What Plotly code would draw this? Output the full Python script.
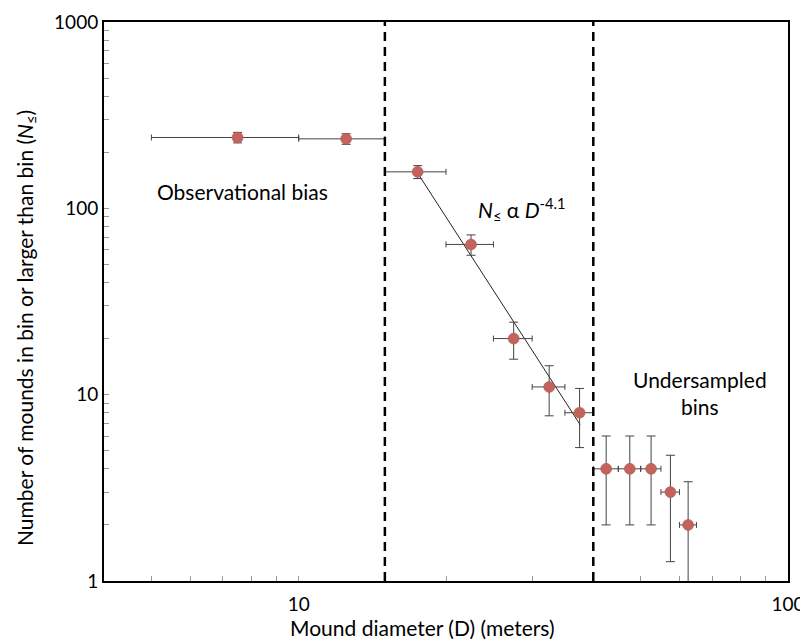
import plotly.graph_objects as go

# Data
diam = [7.5, 12.5, 17.5, 22.5, 27.5, 32.5, 37.5, 42.5, 47.5, 52.5, 57.5, 62.5]
counts = [240, 236, 157, 64, 20, 11, 8, 4, 4, 4, 3, 2]
count_err = [15.5, 15.4, 12.5, 8.0, 4.5, 3.3, 2.8, 2.0, 2.0, 2.0, 1.73, 1.41]
diam_err = [2.5] * 12

fit_x = [17.6, 37.6]
fit_y = [151, 6.9]

boundaries = [15, 40]

x_ticks = [10, 100]
x_minor = [5, 6, 7, 8, 9, 20, 30, 40, 50, 60, 70, 80, 90]
y_ticks = [1, 10, 100, 1000]
y_minor = [2, 3, 4, 5, 6, 7, 8, 9, 20, 30, 40, 50, 60, 70, 80, 90,
           200, 300, 400, 500, 600, 700, 800, 900]

FONT = "Lato"
TXT = 21

fig = go.Figure()

fig.add_trace(go.Scatter(
    x=fit_x, y=fit_y, mode="lines",
    line=dict(color="#222222", width=1), showlegend=False, hoverinfo="skip"))

fig.add_trace(go.Scatter(
    x=diam, y=counts, mode="markers",
    marker=dict(color="#C4625C", size=11, line=dict(color="#A9514C", width=0.5)),
    error_x=dict(type="data", array=diam_err, color="#444444", thickness=1, width=3),
    error_y=dict(type="data", array=count_err, color="#444444", thickness=1, width=4.5),
    showlegend=False))

for b in boundaries:
    fig.add_shape(type="line", xref="x", yref="paper", x0=b, x1=b, y0=0, y1=1,
                  line=dict(color="black", width=2.5, dash="9px,6px"))


def note(x, y, text, angle=0):
    fig.add_annotation(x=x, y=y, xref="paper", yref="paper", text=text,
                       showarrow=False, xanchor="center", yanchor="middle",
                       textangle=angle,
                       font=dict(family=FONT, size=TXT, color="black"))


note(0.203, 0.696, "Observational bias")
note(0.61, 0.664, "<i>N</i><sub>≤</sub> α <i>D</i><sup>-4.1</sup>")
note(0.871, 0.336, "Undersampled<br>bins")

# axis titles
note(0.4656, -0.0823, "Mound diameter (D) (meters)")
note(-0.114, 0.4526, "Number of mounds in bin or larger than bin (<i>N</i><sub>≤</sub>)", angle=-90)

fig.update_xaxes(
    type="log", range=[0.60206, 2.0], automargin=False,
    tickvals=x_ticks, ticktext=["10", "100"], ticklabelstandoff=5,
    ticks="inside", ticklen=5, tickcolor="#999999", tickwidth=1,
    minor=dict(tickvals=x_minor, ticks="inside", ticklen=5, tickcolor="#999999", tickwidth=1),
    showline=True, linecolor="black", linewidth=2, mirror=True,
    showgrid=False, zeroline=False,
    tickfont=dict(family=FONT, size=19, color="black"))

fig.update_yaxes(
    type="log", range=[0, 3], automargin=False,
    tickvals=y_ticks, ticktext=["1", "10", "100", "1000"],
    ticks="inside", ticklen=5, tickcolor="#999999", tickwidth=1,
    minor=dict(tickvals=y_minor, ticks="inside", ticklen=5, tickcolor="#999999", tickwidth=1),
    showline=True, linecolor="black", linewidth=2, mirror=True,
    showgrid=False, zeroline=False,
    tickfont=dict(family=FONT, size=19, color="black"))

fig.update_layout(
    width=800, height=636,
    margin=dict(l=96, r=20, t=14, b=63),
    plot_bgcolor="white", paper_bgcolor="white",
    font=dict(family=FONT, color="black"))

fig.write_html("out.html")
